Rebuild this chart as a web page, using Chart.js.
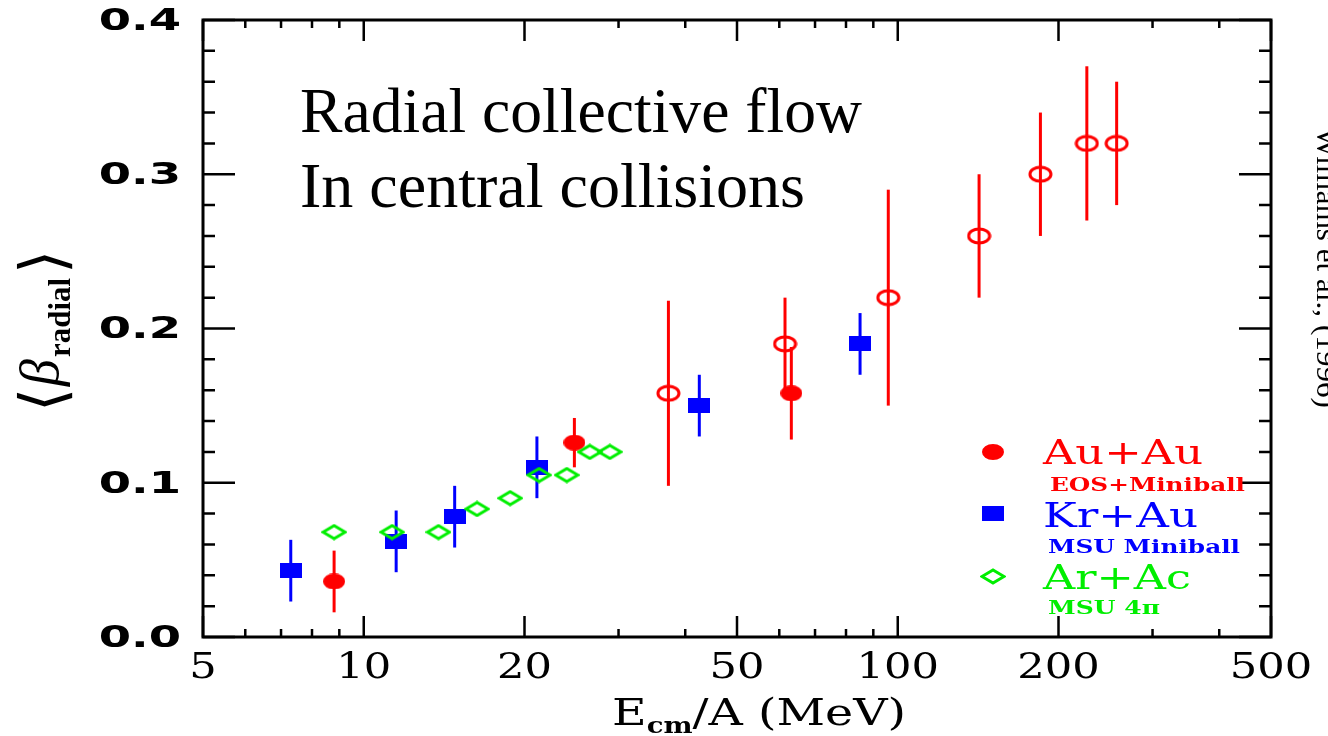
<!DOCTYPE html>
<html lang="en">
<head>
<meta charset="UTF-8">
<title>Radial collective flow</title>
<script src="https://cdn.jsdelivr.net/npm/chart.js"></script>
<style>
  html, body { margin: 0; padding: 0; background: #fff; }
  canvas { display: block; }
</style>
</head>
<body>
<canvas id="flowChart" width="1328" height="736"></canvas>
<script>
// Au+Au, EOS + Miniball (filled red)
const auEosEnergy = [8.8, 24.8, 63.2];
const auEosBeta = [0.036, 0.126, 0.158];
const auEosErr = [0.02, 0.016, 0.03];
// Au+Au, open red points
const auOpenEnergy = [37.2, 61.5, 96, 142, 185, 226, 257];
const auOpenBeta = [0.158, 0.19, 0.22, 0.26, 0.30, 0.32, 0.32];
const auOpenErr = [0.06, 0.03, 0.07, 0.04, 0.04, 0.05, 0.04];
// Kr+Au, MSU Miniball
const krAuEnergy = [7.3, 11.5, 14.8, 21.1, 42.5, 85];
const krAuBeta = [0.043, 0.062, 0.078, 0.11, 0.15, 0.19];
const krAuErr = [0.02, 0.02, 0.02, 0.02, 0.02, 0.02];
// Ar+Ac, MSU 4pi
const arAcEnergy = [8.8, 11.3, 13.8, 16.3, 18.8, 21.3, 24.0, 26.5, 28.9];
const arAcBeta = [0.068, 0.068, 0.068, 0.083, 0.09, 0.105, 0.105, 0.12, 0.12];

const xTickLabels = [5, 10, 20, 50, 100, 200, 500];
const xMinorTicks = [6, 7, 8, 9, 30, 40, 60, 70, 80, 90, 300, 400];
const yTickLabels = [0.0, 0.1, 0.2, 0.3, 0.4];
const yMinorTicks = [0.02, 0.04, 0.06, 0.08, 0.12, 0.14, 0.16, 0.18, 0.22, 0.24, 0.26, 0.28, 0.32, 0.34, 0.36, 0.38];

const RED = '#ff0000', BLUE = '#0000ff', GREEN = '#00ee00';

function makeMarker(w, h, draw) {
    const c = document.createElement('canvas');
    c.width = w; c.height = h;
    draw(c.getContext('2d'), w, h);
    return c;
}
const dotRed = makeMarker(22, 16, (g, w, h) => {
    g.fillStyle = RED; g.beginPath();
    g.ellipse(w / 2, h / 2, w / 2, h / 2, 0, 0, 2 * Math.PI); g.fill();
});
const ringRed = makeMarker(25, 18, (g, w, h) => {
    g.strokeStyle = RED; g.lineWidth = 3; g.beginPath();
    g.ellipse(w / 2, h / 2, w / 2 - 2, h / 2 - 2, 0, 0, 2 * Math.PI); g.stroke();
});
const squareBlue = makeMarker(22, 15, (g, w, h) => {
    g.fillStyle = BLUE; g.fillRect(0, 0, w, h);
});
const diamondGreen = makeMarker(26, 17, (g, w, h) => {
    g.strokeStyle = GREEN; g.lineWidth = 3; g.beginPath();
    g.moveTo(2, h / 2); g.lineTo(w / 2, 2); g.lineTo(w - 2, h / 2); g.lineTo(w / 2, h - 2);
    g.closePath(); g.stroke();
});

const toPoints = (xs, ys) => xs.map((x, i) => ({ x: x, y: ys[i] }));

// draws text squeezed/stretched horizontally by sx
function stretchText(ctx, text, x, y, font, color, sx, align) {
    ctx.save();
    ctx.font = font;
    ctx.fillStyle = color;
    ctx.textAlign = 'left';
    const w = ctx.measureText(text).width * sx;
    let x0 = x;
    if (align === 'right') x0 = x - w;
    if (align === 'center') x0 = x - w / 2;
    ctx.translate(x0, y);
    ctx.scale(sx, 1);
    ctx.fillText(text, 0, 0);
    ctx.restore();
    return w;
}
function fitText(ctx, text, x, y, font, color, width) {
    ctx.save();
    ctx.font = font;
    const sx = width / ctx.measureText(text).width;
    ctx.restore();
    stretchText(ctx, text, x, y, font, color, sx, 'left');
}

const errorBars = {
    id: 'errorBars',
    beforeDatasetsDraw(chart) {
        const { ctx, scales: { x, y } } = chart;
        chart.data.datasets.forEach(ds => {
            if (!ds.errors) return;
            ctx.save();
            ctx.strokeStyle = ds.barColor;
            ctx.lineWidth = 3;
            ds.data.forEach((p, i) => {
                const px = x.getPixelForValue(p.x);
                ctx.beginPath();
                ctx.moveTo(px, y.getPixelForValue(p.y - ds.errors[i]));
                ctx.lineTo(px, y.getPixelForValue(p.y + ds.errors[i]));
                ctx.stroke();
            });
            ctx.restore();
        });
    }
};

const decorations = {
    id: 'decorations',
    afterDraw(chart) {
        const { ctx, chartArea: a, scales: { x, y } } = chart;
        ctx.save();
        ctx.strokeStyle = '#000';
        ctx.lineWidth = 3;
        ctx.strokeRect(a.left, a.top, a.right - a.left, a.bottom - a.top);

        // inward ticks on all four sides
        ctx.lineWidth = 2.5;
        const vTick = (v, len) => {
            const px = x.getPixelForValue(v);
            ctx.beginPath();
            ctx.moveTo(px, a.bottom); ctx.lineTo(px, a.bottom - len);
            ctx.moveTo(px, a.top); ctx.lineTo(px, a.top + len);
            ctx.stroke();
        };
        const hTick = (v, len) => {
            const py = y.getPixelForValue(v);
            ctx.beginPath();
            ctx.moveTo(a.left, py); ctx.lineTo(a.left + len, py);
            ctx.moveTo(a.right, py); ctx.lineTo(a.right - len, py);
            ctx.stroke();
        };
        xTickLabels.forEach(v => vTick(v, 21));
        xMinorTicks.forEach(v => vTick(v, 8));
        yTickLabels.forEach(v => hTick(v, 32));
        yMinorTicks.forEach(v => hTick(v, 12));
        ctx.restore();

        // tick labels
        ctx.save();
        ctx.textBaseline = 'middle';
        yTickLabels.forEach(v => {
            stretchText(ctx, v.toFixed(1), 181, y.getPixelForValue(v) + 2,
                'bold 30px "DejaVu Sans"', '#000', 1.55, 'right');
        });
        xTickLabels.forEach(v => {
            stretchText(ctx, String(v), x.getPixelForValue(v), 669,
                '36px "DejaVu Serif"', '#000', 1.2, 'center');
        });
        ctx.restore();

        // x axis title: E_cm/A (MeV)
        ctx.save();
        ctx.textBaseline = 'alphabetic';
        let cx = 612;
        const sx = 1.25;
        cx += stretchText(ctx, 'E', cx, 725, '38px "DejaVu Serif"', '#000', sx, 'left');
        cx += stretchText(ctx, 'cm', cx, 733, 'bold 22px "DejaVu Serif"', '#000', sx, 'left');
        stretchText(ctx, '/A (MeV)', cx, 725, '38px "DejaVu Serif"', '#000', sx, 'left');
        ctx.restore();

        // y axis title: <beta_radial>, rotated
        ctx.save();
        ctx.translate(58, 406);
        ctx.rotate(-Math.PI / 2);
        ctx.textBaseline = 'alphabetic';
        ctx.fillStyle = '#000';
        ctx.font = '62px "DejaVu Sans"';
        ctx.fillText('\u27E8', -6, 6);
        ctx.font = 'italic 54px "Liberation Serif"';
        ctx.fillText('\u03B2', 20, 0);
        ctx.font = 'bold 31px "Liberation Serif"';
        ctx.fillText('radial', 49, 12);
        ctx.font = '62px "DejaVu Sans"';
        ctx.fillText('\u27E9', 132, 6);
        ctx.restore();

        // annotation inside plot
        ctx.save();
        ctx.textBaseline = 'alphabetic';
        fitText(ctx, 'Radial collective flow', 300, 132, '64px "Liberation Serif"', '#000', 562);
        fitText(ctx, 'In central collisions', 300, 207, '64px "Liberation Serif"', '#000', 505);
        ctx.restore();

        // citation on the right edge, rotated clockwise
        ctx.save();
        ctx.translate(1317, 128);
        ctx.rotate(Math.PI / 2);
        ctx.textBaseline = 'alphabetic';
        fitText(ctx, 'Williams et al., (1996)', 0, 0, '30px "Liberation Serif"', '#000', 280);
        ctx.restore();

        // legend
        ctx.save();
        ctx.textBaseline = 'alphabetic';
        ctx.drawImage(dotRed, 993 - 11, 452 - 8);
        ctx.drawImage(squareBlue, 993 - 11, 513 - 7);
        ctx.drawImage(diamondGreen, 993 - 13, 576 - 8);
        fitText(ctx, 'Au+Au', 1043, 464, '34px "DejaVu Serif"', RED, 160);
        fitText(ctx, 'EOS+Miniball', 1050, 491, 'bold 18px "DejaVu Serif"', RED, 195);
        fitText(ctx, 'Kr+Au', 1043, 527, '34px "DejaVu Serif"', BLUE, 155);
        fitText(ctx, 'MSU Miniball', 1048, 553, 'bold 18px "DejaVu Serif"', BLUE, 192);
        fitText(ctx, 'Ar+Ac', 1043, 589, '34px "DejaVu Serif"', GREEN, 148);
        fitText(ctx, 'MSU 4\u03C0', 1048, 614, 'bold 18px "DejaVu Serif"', GREEN, 112);
        ctx.restore();
    }
};

const ctx = document.getElementById('flowChart').getContext('2d');
new Chart(ctx, {
    type: 'scatter',
    data: {
        datasets: [
            { label: 'Ar+Ac', data: toPoints(arAcEnergy, arAcBeta), pointStyle: diamondGreen, pointRadius: 8, order: 0 },
            { label: 'Kr+Au', data: toPoints(krAuEnergy, krAuBeta), pointStyle: squareBlue, pointRadius: 8,
              errors: krAuErr, barColor: BLUE, order: 1 },
            { label: 'Au+Au', data: toPoints(auEosEnergy, auEosBeta), pointStyle: dotRed, pointRadius: 8,
              errors: auEosErr, barColor: RED, order: 2 },
            { label: 'Au+Au (open)', data: toPoints(auOpenEnergy, auOpenBeta), pointStyle: ringRed, pointRadius: 8,
              errors: auOpenErr, barColor: RED, order: 3 }
        ]
    },
    options: {
        responsive: false,
        animation: false,
        devicePixelRatio: 1,
        layout: { padding: { left: 0, right: 57, top: 20, bottom: 0 } },
        plugins: { legend: { display: false }, tooltip: { enabled: false } },
        scales: {
            x: {
                type: 'logarithmic', min: 5, max: 500,
                ticks: { display: false }, grid: { display: false }, border: { display: false },
                afterFit(s) { s.height = 99; }
            },
            y: {
                min: 0, max: 0.4,
                ticks: { display: false }, grid: { display: false }, border: { display: false },
                afterFit(s) { s.width = 203; }
            }
        }
    },
    plugins: [errorBars, decorations]
});
</script>
</body>
</html>
